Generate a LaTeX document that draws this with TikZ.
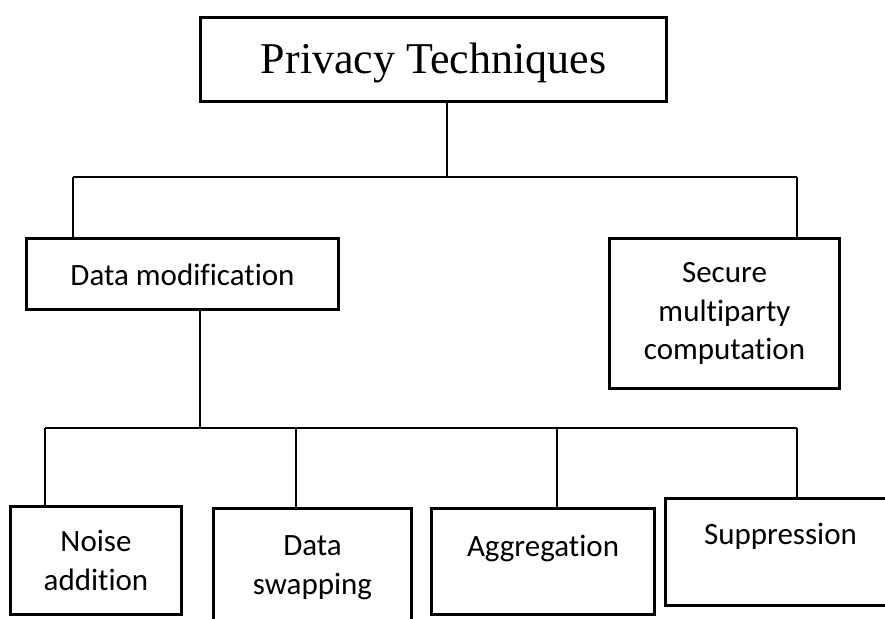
\documentclass[tikz,border=0pt]{standalone}
\usepackage{fontspec}
\newfontfamily\calibrifont[Ligatures=NoCommon]{Carlito}
\newfontfamily\timesfont{Liberation Serif}
\begin{document}
\begin{tikzpicture}[x=1pt,y=-1pt,
  box/.style={draw, line width=3pt, inner sep=0pt, align=center, anchor=north west,
    font=\calibrifont\fontsize{31}{38.5}\selectfont},
  link/.style={line width=2.7pt}]
\useasboundingbox (0,0) rectangle (885,618);
\clip (0,0) rectangle (885,618);

% boxes
\node[box, font=\timesfont\fontsize{44}{50}\selectfont,
      minimum width=466pt, text height=56pt, text depth=28pt] (top) at (199,16) {Privacy Techniques};
\node[box, minimum width=312pt, text height=47pt, text depth=24pt] (dm) at (25,237) {Data modification};
\node[box, minimum width=230pt, minimum height=150pt] (smc) at (608,237) {Secure\\multiparty\\computation};
\node[box, minimum width=171pt, minimum height=108pt] (noise) at (9,505) {Noise\\addition};
\node[box, minimum width=198pt, minimum height=118pt] (swap) at (212,507) {Data\\swapping};
\node[box, minimum width=223pt, text height=48pt, text depth=58pt] (agg) at (430,507) {Aggregation};
\node[box, minimum width=230pt, text height=46pt, text depth=61pt] (sup) at (664,497) {Suppression};

% first level
\coordinate (jT) at (447,177);
\coordinate (jL) at (73,177);
\coordinate (jR) at (797,177);
\draw[link] (jT |- top.south) -- (jT);
\draw[link] (jL) -- (jR);
\draw[link] (jL) -- (jL |- dm.north);
\draw[link] (jR) -- (jR |- smc.north);

% second level
\coordinate (kT) at (200,428);
\coordinate (k1) at (45,428);
\coordinate (k2) at (296,428);
\coordinate (k3) at (557,428);
\coordinate (k4) at (797,428);
\draw[link] (kT |- dm.south) -- (kT);
\draw[link] (k1) -- (k4);
\draw[link] (k1) -- (k1 |- noise.north);
\draw[link] (k2) -- (k2 |- swap.north);
\draw[link] (k3) -- (k3 |- agg.north);
\draw[link] (k4) -- (k4 |- sup.north);
\end{tikzpicture}
\end{document}
